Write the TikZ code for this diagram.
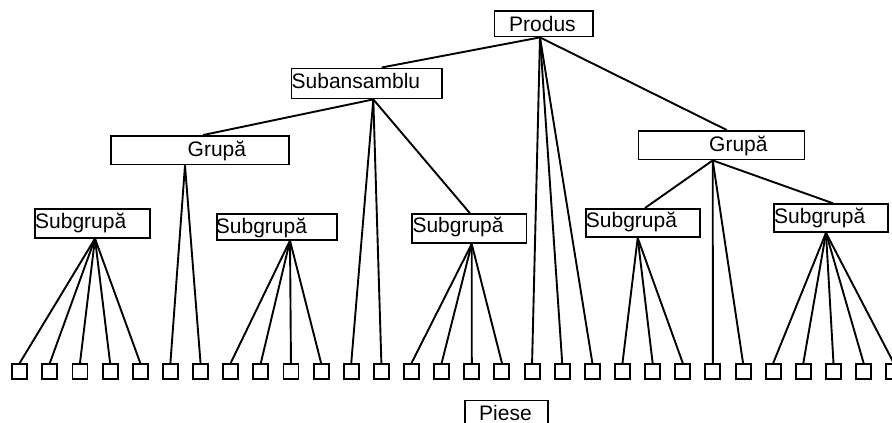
\documentclass[tikz,border=0pt]{standalone}
\usepackage{fontspec}
\setmainfont{Liberation Sans}
\begin{document}
\begin{tikzpicture}[x=1pt,y=-1pt,
  box/.style={draw, line width=1.9pt, inner sep=0pt, anchor=north west},
  part/.style={draw, line width=1.9pt, inner sep=0pt, minimum size=15pt},
  txt/.style={inner sep=0pt, anchor=base west, font=\fontsize{21}{25}\selectfont},
  link/.style={line width=1.9pt}]
\useasboundingbox (0,0) rectangle (892,423);

% frames of the structural levels
\node[box, minimum width=98.5pt,  minimum height=25.5pt] (prod) at (493.5,10) {};
\node[box, minimum width=150.5pt, minimum height=30pt]   (sa)   at (290.5,67.5) {};
\node[box, minimum width=178pt,   minimum height=28.5pt] (gl)   at (110,135) {};
\node[box, minimum width=166pt,   minimum height=28.5pt] (gr)   at (637.5,130) {};
\node[box, minimum width=114.7pt, minimum height=28.7pt] (sg1)  at (34,208) {};
\node[box, minimum width=120.3pt, minimum height=25.4pt] (sg2)  at (215.7,213.3) {};
\node[box, minimum width=114.2pt, minimum height=28.7pt] (sg3)  at (411.3,213.3) {};
\node[box, minimum width=114pt,   minimum height=28pt]   (sg4)  at (584.7,208) {};
\node[box, minimum width=113.7pt, minimum height=27.7pt] (sg5)  at (773.3,203.3) {};
\node[box, minimum width=82.7pt,  minimum height=26pt]   (pie)  at (464,399.5) {};

% labels
\node[txt] (tprod) at (509,31.5)  {Produs};
\node[txt] (tsa)   at (291.5,88.3) {Subansamblu};
\node[txt] (tgl)   at (187.5,156) {Grupă};
\node[txt] (tgr)   at (709,151.7) {Grupă};
\node[txt] (tsg1)  at (35,228.3)  {Subgrupă};
\node[txt] (tsg2)  at (215.7,233.3) {Subgrupă};
\node[txt] (tsg3)  at (412.3,232.7) {Subgrupă};
\node[txt] (tsg4)  at (585.7,227.7) {Subgrupă};
\node[txt] (tsg5)  at (774,223.3) {Subgrupă};
\node[txt] (tpie)  at (479,420)   {Piese};

% parts row
\foreach \k in {0,...,29}
  \node[part] (p\k) at ({19.7+30.14*\k},371.5) {};

% attachment points on the frames
\coordinate (prodB) at ([xshift=46.5pt]prod.south west);
\coordinate (saT)   at ([xshift=91.2pt]sa.north west);
\coordinate (saB)   at ([xshift=82.8pt]sa.south west);
\coordinate (glT)   at ([xshift=93.3pt]gl.north west);
\coordinate (glB)   at ([xshift=75pt]gl.south west);
\coordinate (grT)   at ([xshift=89.2pt]gr.north west);
\coordinate (grB)   at ([xshift=75.2pt]gr.south west);
\coordinate (sg1B)  at ([xshift=61pt]sg1.south west);
\coordinate (sg2B)  at ([xshift=74.3pt]sg2.south west);
\coordinate (sg3T)  at ([xshift=58.7pt]sg3.north west);
\coordinate (sg3B)  at ([xshift=60.4pt]sg3.south west);
\coordinate (sg4T)  at ([xshift=60.3pt]sg4.north west);
\coordinate (sg4B)  at ([xshift=53pt]sg4.south west);
\coordinate (sg5T)  at ([xshift=59.7pt]sg5.north west);
\coordinate (sg5B)  at ([xshift=52.7pt]sg5.south west);

% product level
\draw[link] (prodB) -- (saT);
\draw[link] (prodB) -- (grT);
\foreach \k in {17,18,19} \draw[link] (prodB) -- (p\k.north);

% subassembly
\draw[link] (saB) -- (glT);
\draw[link] (saB) -- (sg3T);
\foreach \k in {11,12} \draw[link] (saB) -- (p\k.north);

% groups
\foreach \k in {5,6} \draw[link] (glB) -- (p\k.north);
\draw[link] (grB) -- (sg4T);
\draw[link] (grB) -- (sg5T);
\foreach \k in {23,24} \draw[link] (grB) -- (p\k.north);

% subgroups
\foreach \k in {0,...,4}   \draw[link] (sg1B) -- (p\k.north);
\foreach \k in {7,...,10}  \draw[link] (sg2B) -- (p\k.north);
\foreach \k in {13,...,16} \draw[link] (sg3B) -- (p\k.north);
\foreach \k in {20,21,22}  \draw[link] (sg4B) -- (p\k.north);
\foreach \k in {25,...,29} \draw[link] (sg5B) -- (p\k.north);
\end{tikzpicture}
\end{document}
